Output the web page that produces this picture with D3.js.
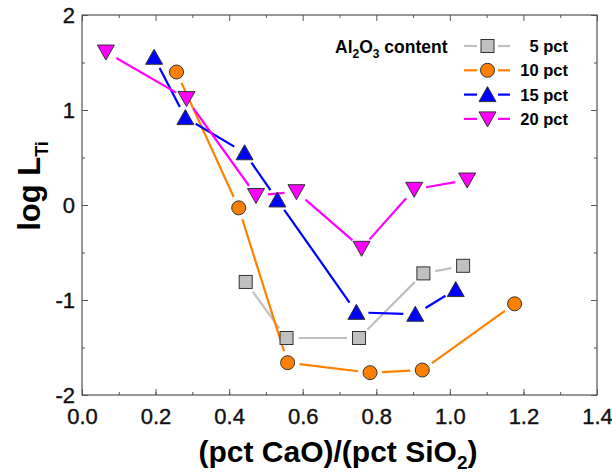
<!doctype html>
<html lang=en>
<head>
  <meta charset=utf-8>
  <title>log L_Ti vs CaO/SiO2</title>
  <style>
    html, body { margin: 0; background: #fff; }
    svg { font-family: "Liberation Sans", Arial, sans-serif; }
  </style>
  <script src="https://cdn.jsdelivr.net/npm/d3@7"></script>
</head>
<body>
<svg id=chart width=612 height=473></svg>
<script>
  // values
  const xTicks = [0, 0.2, 0.4, 0.6, 0.8, 1.0, 1.2, 1.4]
  const yTicks = [-2, -1, 0, 1, 2]

  const al5x = [0.445, 0.556, 0.753, 0.928, 1.036]
  const al5y = [-0.81, -1.40, -1.40, -0.72, -0.64]

  const al10x = [0.257, 0.426, 0.559, 0.783, 0.925, 1.176]
  const al10y = [1.40, -0.03, -1.66, -1.765, -1.737, -1.04]

  const al15x = [0.196, 0.281, 0.442, 0.531, 0.746, 0.906, 1.016]
  const al15y = [1.555, 0.92, 0.55, 0.053, -1.13, -1.15, -0.89]

  const al20x = [0.065, 0.284, 0.473, 0.583, 0.76, 0.903, 1.047]
  const al20y = [1.61, 1.12, 0.10, 0.14, -0.456, 0.165, 0.263]

  const seriesNames = ['5 pct', '10 pct', '15 pct', '20 pct']

  const series = [
    { name: seriesNames[0], xs: al5x, ys: al5y, color: '#c0c0c0', shape: 'square' },
    { name: seriesNames[1], xs: al10x, ys: al10y, color: '#ff8000', shape: 'circle' },
    { name: seriesNames[2], xs: al15x, ys: al15y, color: '#0000ff', shape: 'up' },
    { name: seriesNames[3], xs: al20x, ys: al20y, color: '#ff00ff', shape: 'down' },
  ]

  const plotLeft = 82, plotRight = 597, plotTop = 15, plotBottom = 395
  const svg = d3.select('#chart')

  const x = d3.scaleLinear().domain([0, 1.4]).range([plotLeft, plotRight])
  const y = d3.scaleLinear().domain([-2, 2]).range([plotBottom, plotTop])

  // frame
  svg.append('rect')
    .attr('x', plotLeft).attr('y', plotTop)
    .attr('width', plotRight - plotLeft).attr('height', plotBottom - plotTop)
    .attr('fill', 'none').attr('stroke', '#333').attr('stroke-width', 1)

  // inner ticks
  const xMinor = d3.range(0, 15).map(i => i / 10)
  const yMinor = d3.range(0, 9).map(i => -2 + i / 2)
  const tickColor = '#555'

  const bottomAxis = svg.append('g').attr('transform', `translate(0,${plotBottom})`)
    .call(d3.axisBottom(x).tickValues(xTicks).tickFormat(d3.format('.1f')).tickSize(-6).tickPadding(13))
  bottomAxis.select('.domain').remove()
  bottomAxis.selectAll('line').attr('stroke', tickColor)
  bottomAxis.selectAll('text').attr('font-size', 22).attr('fill', '#111')
    .attr('stroke', '#111').attr('stroke-width', 0.4)

  const bottomMinor = svg.append('g').attr('transform', `translate(0,${plotBottom})`)
    .call(d3.axisBottom(x).tickValues(xMinor).tickSize(-3).tickFormat(''))
  bottomMinor.select('.domain').remove()
  bottomMinor.selectAll('line').attr('stroke', tickColor)

  const topMinor = svg.append('g').attr('transform', `translate(0,${plotTop})`)
    .call(d3.axisTop(x).tickValues(xMinor).tickSize(-3).tickFormat(''))
  topMinor.select('.domain').remove()
  topMinor.selectAll('line').attr('stroke', tickColor)
  topMinor.selectAll('.tick')
    .filter(d => xTicks.some(t => Math.abs(t - d) < 1e-9))
    .select('line').attr('y2', 6)

  const leftAxis = svg.append('g').attr('transform', `translate(${plotLeft},0)`)
    .call(d3.axisLeft(y).tickValues(yTicks).tickFormat(d => d < 0 ? '-' + Math.abs(d) : d).tickSize(-6).tickPadding(7))
  leftAxis.select('.domain').remove()
  leftAxis.selectAll('line').attr('stroke', tickColor)
  leftAxis.selectAll('text').attr('font-size', 22).attr('fill', '#111')
    .attr('stroke', '#111').attr('stroke-width', 0.4)

  const leftMinor = svg.append('g').attr('transform', `translate(${plotLeft},0)`)
    .call(d3.axisLeft(y).tickValues(yMinor).tickSize(-3).tickFormat(''))
  leftMinor.select('.domain').remove()
  leftMinor.selectAll('line').attr('stroke', tickColor)

  const rightMinor = svg.append('g').attr('transform', `translate(${plotRight},0)`)
    .call(d3.axisRight(y).tickValues(yMinor).tickSize(-3).tickFormat(''))
  rightMinor.select('.domain').remove()
  rightMinor.selectAll('line').attr('stroke', tickColor)
  rightMinor.selectAll('.tick')
    .filter(d => yTicks.includes(d))
    .select('line').attr('x2', -6)

  // axis titles
  svg.append('text')
    .attr('x', 338).attr('y', 462)
    .attr('text-anchor', 'middle')
    .attr('font-size', 30).attr('font-weight', 'bold')
    .html('(pct CaO)/(pct SiO<tspan dy="7" font-size="19">2</tspan><tspan dy="-7">)</tspan>')

  svg.append('text')
    .attr('transform', 'translate(40,186) rotate(-90)')
    .attr('text-anchor', 'middle')
    .attr('font-size', 31).attr('font-weight', 'bold')
    .html('log L<tspan dy="8" font-size="18">Ti</tspan>')

  // markers
  function marker(g, shape, color, cx, cy) {
    const stroke = '#333'
    if (shape === 'square') {
      g.append('rect').attr('x', cx - 6.5).attr('y', cy - 6.5)
        .attr('width', 13).attr('height', 13)
        .attr('fill', color).attr('stroke', stroke)
    } else if (shape === 'circle') {
      g.append('circle').attr('cx', cx).attr('cy', cy).attr('r', 7)
        .attr('fill', color).attr('stroke', stroke)
    } else {
      const s = shape === 'up' ? 1 : -1
      g.append('path')
        .attr('d', d3.line()([[cx - 8.5, cy + s * 7], [cx + 8.5, cy + s * 7], [cx, cy - s * 8]]) + 'Z')
        .attr('fill', color).attr('stroke', stroke)
    }
  }

  const gap = 12
  const plot = svg.append('g')
  for (const s of series) {
    const pts = s.xs.map((v, i) => [x(v), y(s.ys[i])])
    for (let i = 0; i < pts.length - 1; i++) {
      const [x0, y0] = pts[i], [x1, y1] = pts[i + 1]
      const len = Math.hypot(x1 - x0, y1 - y0)
      if (len <= gap * 2) continue
      const ux = (x1 - x0) / len, uy = (y1 - y0) / len
      plot.append('line')
        .attr('x1', x0 + ux * gap).attr('y1', y0 + uy * gap)
        .attr('x2', x1 - ux * gap).attr('y2', y1 - uy * gap)
        .attr('stroke', s.color).attr('stroke-width', 2.2)
    }
  }
  for (const s of series) {
    s.xs.forEach((v, i) => marker(plot, s.shape, s.color, x(v), y(s.ys[i])))
  }

  // legend
  const legend = svg.append('g')
  legend.append('text')
    .attr('x', 335).attr('y', 53)
    .attr('font-size', 17.5).attr('font-weight', 'bold')
    .html('Al<tspan dy="5" font-size="12">2</tspan><tspan dy="-5">O</tspan><tspan dy="5" font-size="12">3</tspan><tspan dy="-5"> content</tspan>')
  series.forEach((s, i) => {
    const ly = 46 + i * 24.3
    legend.append('line').attr('x1', 464).attr('x2', 477).attr('y1', ly).attr('y2', ly)
      .attr('stroke', s.color).attr('stroke-width', 2.2)
    legend.append('line').attr('x1', 498).attr('x2', 510).attr('y1', ly).attr('y2', ly)
      .attr('stroke', s.color).attr('stroke-width', 2.2)
    marker(legend, s.shape, s.color, 487.5, ly)
    legend.append('text')
      .attr('x', 568).attr('y', ly + 6)
      .attr('text-anchor', 'end')
      .attr('font-size', 16.5).attr('font-weight', 'bold')
      .text(s.name)
  })
</script>
</body>
</html>
